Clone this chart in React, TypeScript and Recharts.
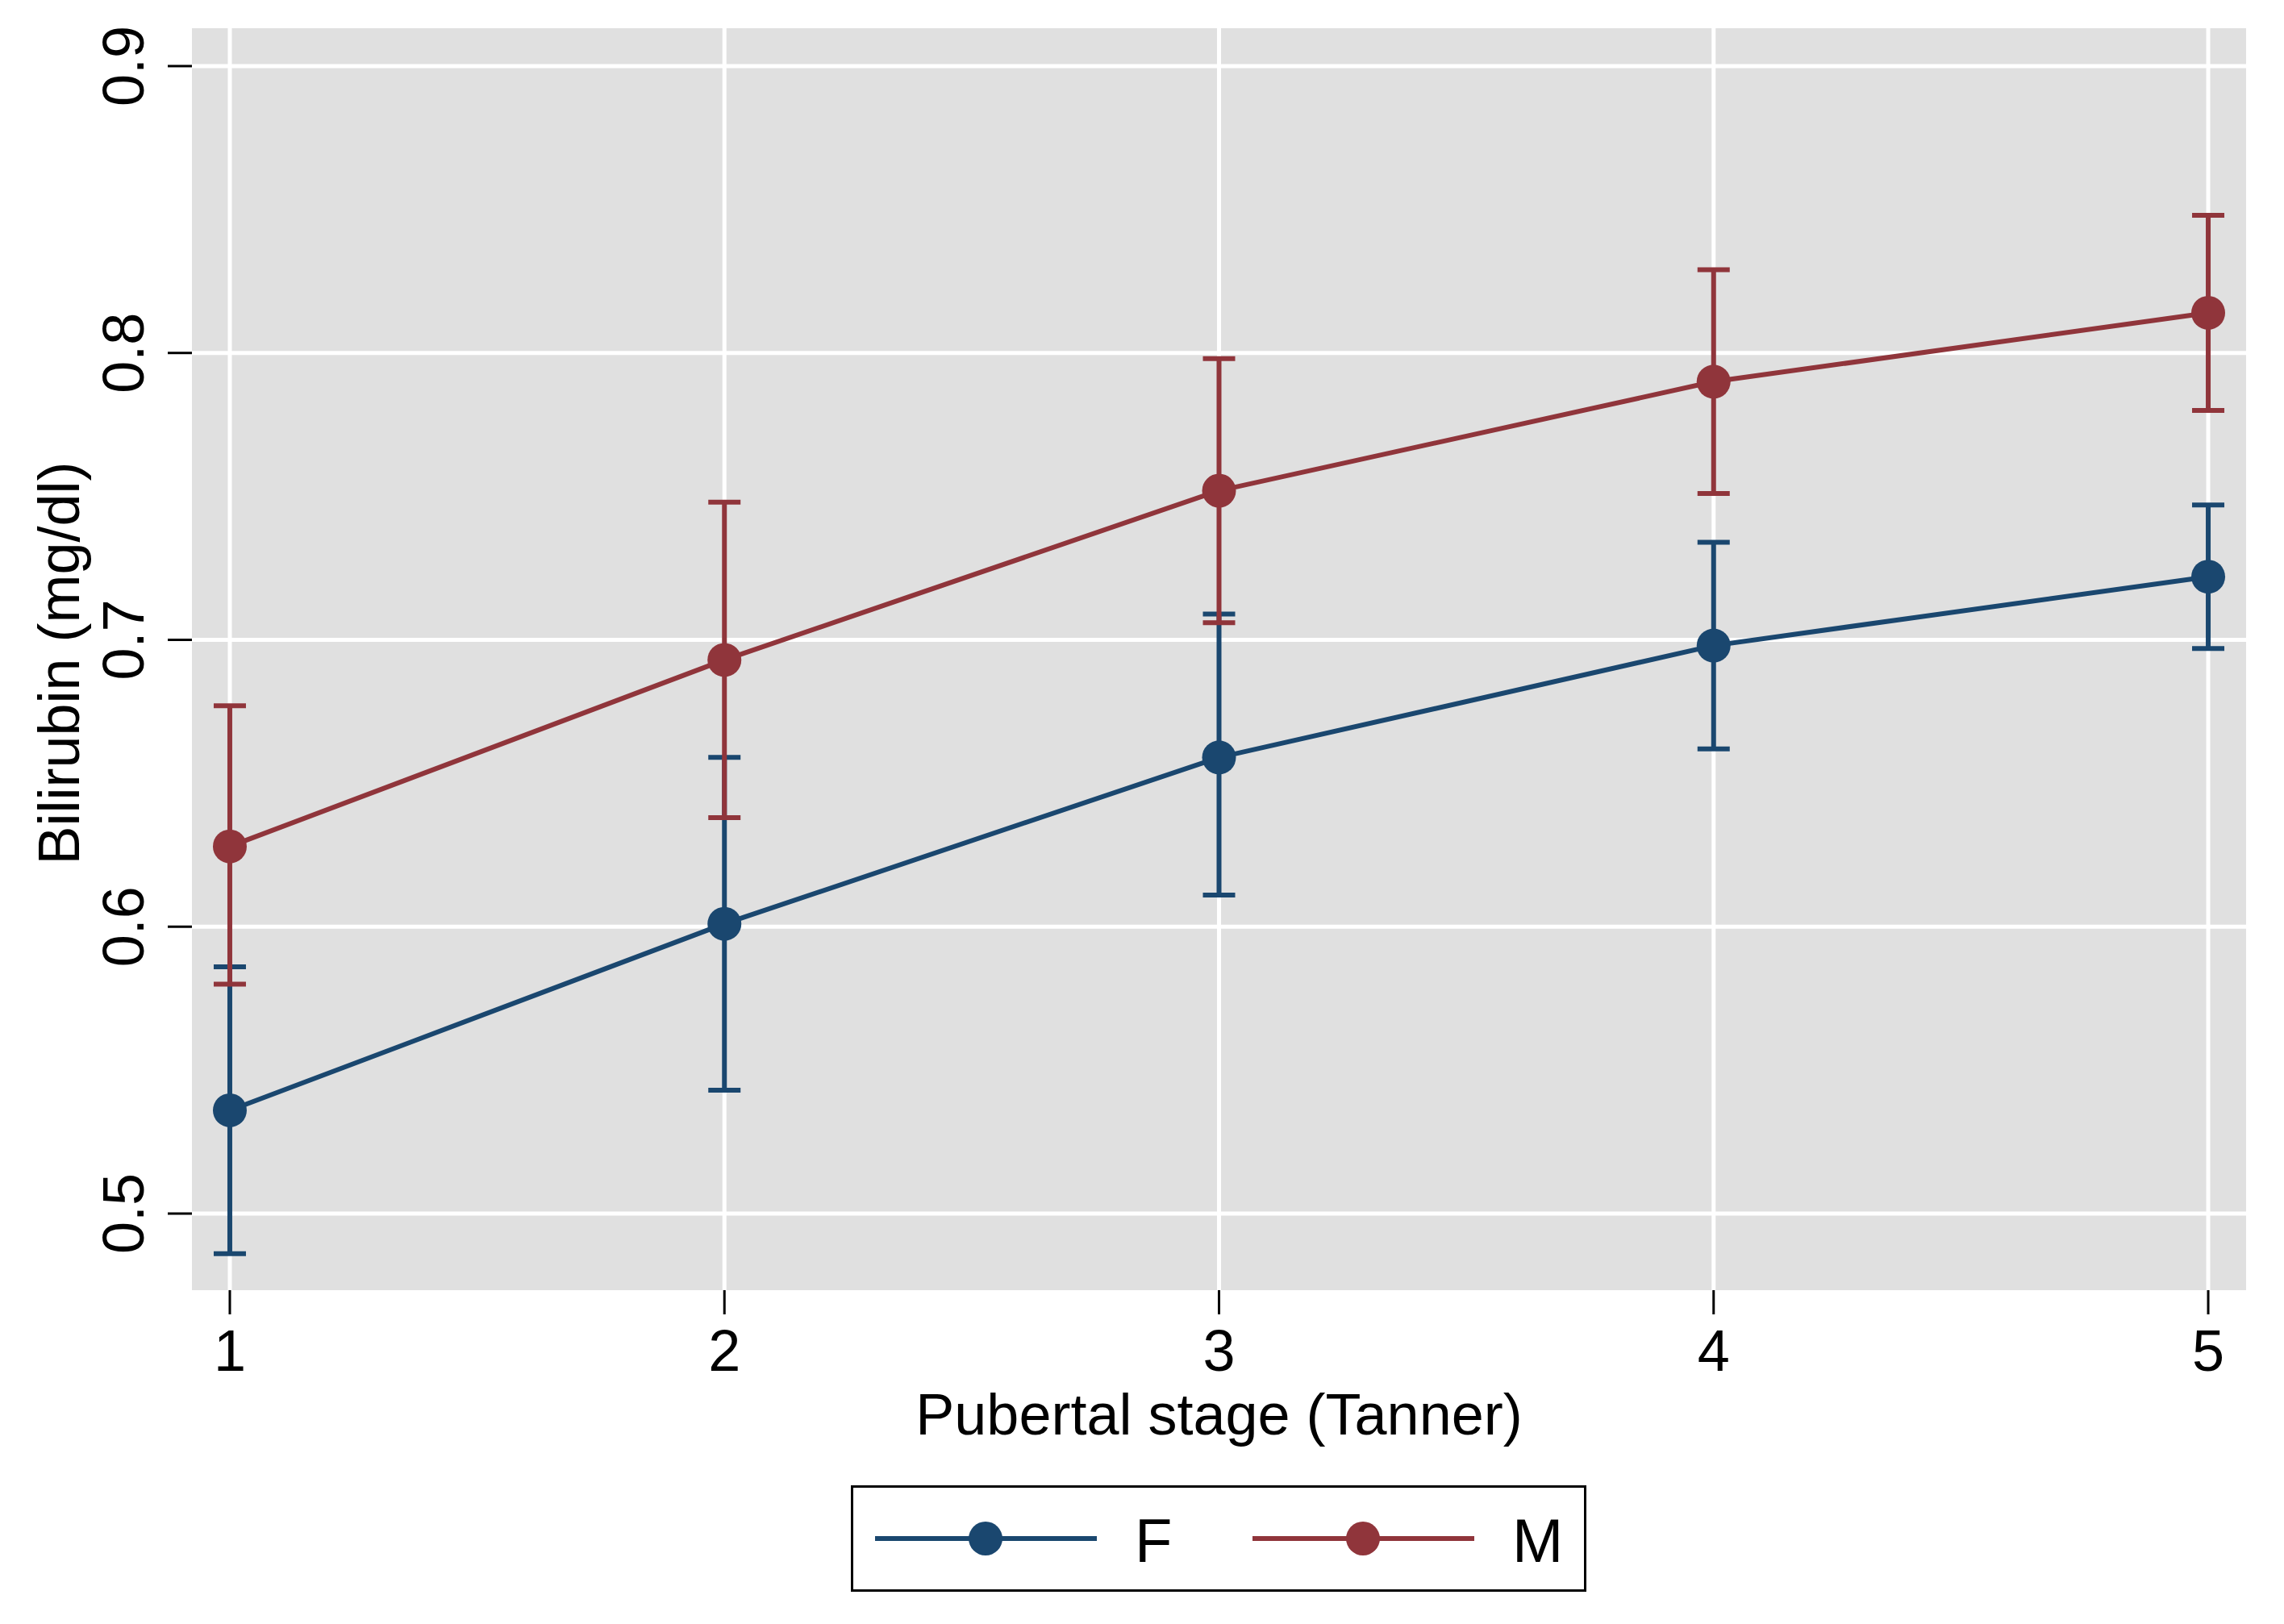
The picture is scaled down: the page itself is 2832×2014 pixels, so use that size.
import React from 'react';
import {
  ComposedChart,
  Line,
  XAxis,
  YAxis,
  CartesianGrid,
  ErrorBar,
  Legend,
  Label,
} from 'recharts';

// ---- data ----
const stages = [1, 2, 3, 4, 5];
const femaleMean = [0.536, 0.601, 0.659, 0.698, 0.722];
const femaleLow = [0.486, 0.543, 0.611, 0.662, 0.697];
const femaleHigh = [0.586, 0.659, 0.709, 0.734, 0.747];
const maleMean = [0.628, 0.693, 0.752, 0.790, 0.814];
const maleLow = [0.580, 0.638, 0.706, 0.751, 0.780];
const maleHigh = [0.677, 0.748, 0.798, 0.829, 0.848];
const xTicks = [1, 2, 3, 4, 5];
const yTicks = [0.5, 0.6, 0.7, 0.8, 0.9];
const seriesNames = ['F', 'M'];

const BLUE = '#1a476f';
const RED = '#90353b';
const FONT = '"Liberation Sans", Arial, Helvetica, sans-serif';

const data = stages.map((s, i) => ({
  stage: s,
  F: femaleMean[i],
  M: maleMean[i],
  Ferr: [femaleMean[i] - femaleLow[i], femaleHigh[i] - femaleMean[i]],
  Merr: [maleMean[i] - maleLow[i], maleHigh[i] - maleMean[i]],
}));

const makeDot = (color: string) => (props: any) => {
  const { cx, cy, index } = props;
  if (cx == null || cy == null) return <g key={index} />;
  return <circle key={index} cx={cx} cy={cy} r={21} fill={color} stroke="none" />;
};

const YTick = (props: any) => {
  const { x, y, payload } = props;
  return (
    <text
      x={x}
      y={y}
      transform={`rotate(-90, ${x}, ${y})`}
      textAnchor="middle"
      fontSize={72}
      fontFamily={FONT}
      fill="#000"
    >
      {String(payload.value)}
    </text>
  );
};

const YTitle = (props: any) => {
  const vb = props.viewBox || { x: 0, y: 35, width: 238, height: 1565 };
  const cx = 98;
  const cy = vb.y + vb.height / 2 + 5;
  return (
    <text
      x={cx}
      y={cy}
      transform={`rotate(-90, ${cx}, ${cy})`}
      textAnchor="middle"
      fontSize={72}
      fontFamily={FONT}
      fill="#000"
    >
      Bilirubin (mg/dl)
    </text>
  );
};

const XTitle = (props: any) => {
  const vb = props.viewBox || { x: 238, y: 1600, width: 2547, height: 414 };
  return (
    <text
      x={vb.x + vb.width / 2}
      y={vb.y + 179}
      textAnchor="middle"
      fontSize={72}
      fontFamily={FONT}
      fill="#000"
    >
      Pubertal stage (Tanner)
    </text>
  );
};

const LegendBox = () => {
  const colors = [BLUE, RED];
  const starts = [30, 498];
  return (
    <svg width={912} height={132} style={{ display: 'block' }}>
      <rect x={1.5} y={1.5} width={909} height={129} fill="#fff" stroke="#000" strokeWidth={3} />
      {seriesNames.map((name, i) => (
        <g key={name}>
          <line x1={starts[i]} y1={66} x2={starts[i] + 275} y2={66} stroke={colors[i]} strokeWidth={6} />
          <circle cx={starts[i] + 137} cy={66} r={21} fill={colors[i]} />
          <text
            x={starts[i] + 322}
            y={95}
            fontSize={76}
            fontFamily={FONT}
            fill="#000"
          >
            {name}
          </text>
        </g>
      ))}
    </svg>
  );
};

export default function App() {
  return (
    <div style={{ position: 'absolute', left: 0, top: 0, background: '#fff' }}>
      <ComposedChart
        width={2832}
        height={2014}
        data={data}
        margin={{ top: 35, right: 47, bottom: 0, left: 0 }}
        style={{ fontFamily: FONT }}
      >
        <CartesianGrid
          fill="#e0e0e0"
          stroke="#ffffff"
          strokeWidth={5}
          horizontalValues={yTicks}
          verticalValues={xTicks}
        />
        <XAxis
          dataKey="stage"
          type="number"
          domain={[0.9234, 5.0766]}
          ticks={xTicks}
          allowDataOverflow
          height={414}
          axisLine={false}
          tickLine={{ stroke: '#000', strokeWidth: 3 }}
          tickSize={30}
          tickMargin={19}
          tick={{ fontSize: 72, fill: '#000', fontFamily: FONT }}
          interval={0}
        >
          <Label content={XTitle} />
        </XAxis>
        <YAxis
          type="number"
          domain={[0.4733, 0.9132]}
          ticks={yTicks}
          allowDataOverflow
          width={238}
          axisLine={false}
          tickLine={{ stroke: '#000', strokeWidth: 3 }}
          tickSize={30}
          tickMargin={30}
          tick={<YTick />}
          interval={0}
        >
          <Label content={YTitle} />
        </YAxis>
        <Legend
          layout="horizontal"
          verticalAlign="middle"
          align="center"
          content={() => <LegendBox />}
          wrapperStyle={{ position: 'absolute', left: 1055, top: 1842, width: 912, height: 132 }}
        />
        <Line
          type="linear"
          dataKey="F"
          name="F"
          stroke={BLUE}
          strokeWidth={6}
          dot={makeDot(BLUE)}
          activeDot={false}
          isAnimationActive={false}
        >
          <ErrorBar dataKey="Ferr" width={20} stroke={BLUE} strokeWidth={6} isAnimationActive={false} />
        </Line>
        <Line
          type="linear"
          dataKey="M"
          name="M"
          stroke={RED}
          strokeWidth={6}
          dot={makeDot(RED)}
          activeDot={false}
          isAnimationActive={false}
        >
          <ErrorBar dataKey="Merr" width={20} stroke={RED} strokeWidth={6} isAnimationActive={false} />
        </Line>
      </ComposedChart>
    </div>
  );
}
